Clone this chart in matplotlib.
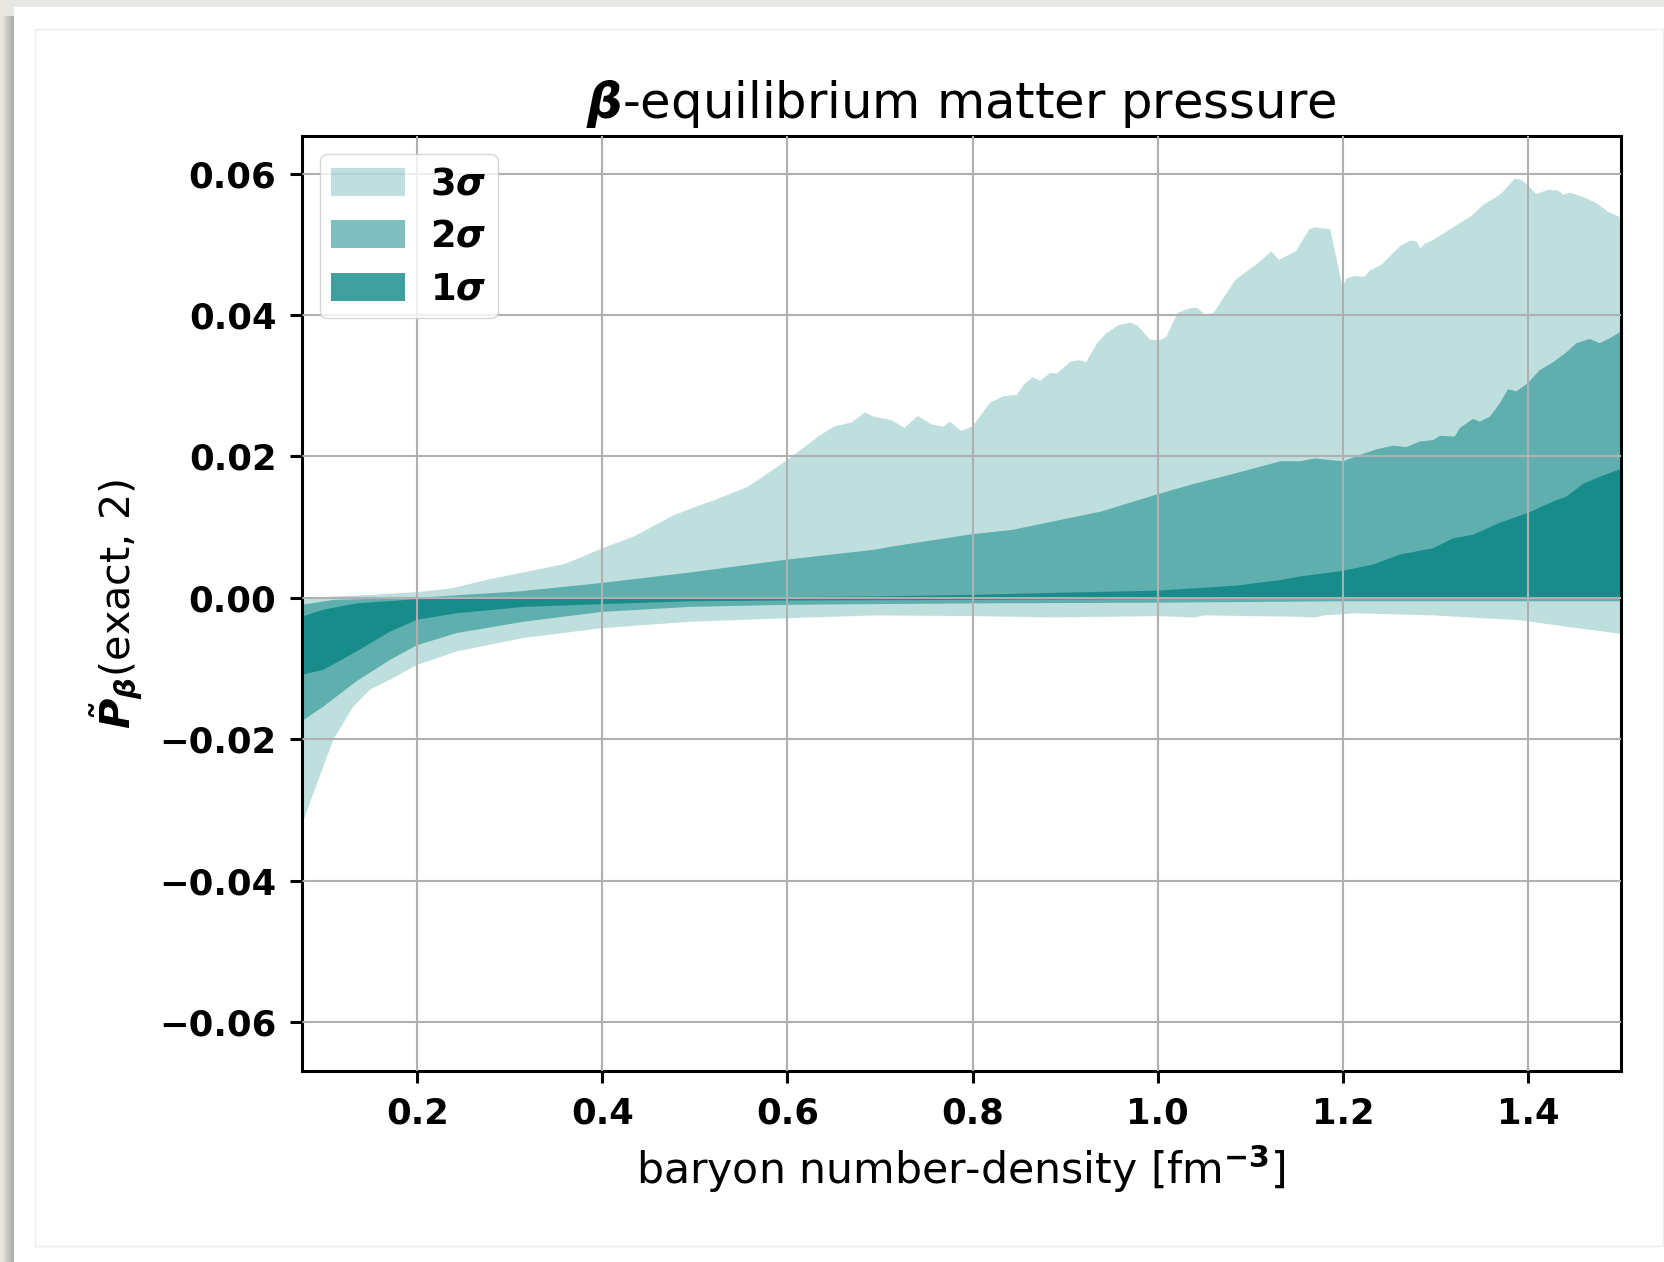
import numpy as np
import matplotlib
matplotlib.use("Agg")
import matplotlib.pyplot as plt
from matplotlib.patches import Rectangle

# sigma bands of the pressure residual vs baryon density
x_hi3 = [0.075, 0.10, 0.15, 0.2, 0.236, 0.2775, 0.327, 0.36, 0.4, 0.4345, 0.476, 0.5054,
         0.517, 0.5536, 0.5585, 0.6, 0.6332, 0.650, 0.6694, 0.6838, 0.6935, 0.7128, 0.7263,
         0.7408, 0.7562, 0.7683, 0.7755, 0.7876, 0.7996, 0.819, 0.8334, 0.8479, 0.8551,
         0.8647, 0.873, 0.884, 0.8912, 0.9056, 0.9153, 0.9226, 0.9346, 0.9443, 0.9587,
         0.9708, 0.978, 0.9918, 1.0021, 1.0093, 1.0214, 1.0359, 1.0431, 1.0503, 1.06,
         1.0841, 1.1082, 1.1226, 1.1309, 1.1492, 1.1637, 1.1699, 1.1864, 1.1996, 1.204,
         1.2129, 1.2237, 1.2291, 1.2417, 1.2615, 1.2723, 1.2796, 1.2839, 1.2875, 1.2976,
         1.3192, 1.339, 1.3516, 1.366, 1.3714, 1.3858, 1.393, 1.4, 1.409, 1.4217, 1.4325,
         1.4379, 1.4451, 1.4595, 1.474, 1.4865, 1.5]
y_hi3 = [-0.0003, 0.0001, 0.0004, 0.0008, 0.0013, 0.0026, 0.0039, 0.0048, 0.0070, 0.0087,
         0.0116, 0.0131, 0.0136, 0.0155, 0.0158, 0.0195, 0.0228, 0.0242, 0.0248, 0.0262,
         0.0256, 0.0251, 0.0240, 0.0257, 0.0245, 0.0242, 0.0249, 0.0236, 0.0242, 0.0276,
         0.0285, 0.0287, 0.0301, 0.0312, 0.0307, 0.0318, 0.0317, 0.0334, 0.0336, 0.0333,
         0.0360, 0.0374, 0.0386, 0.0389, 0.0385, 0.0365, 0.0364, 0.0369, 0.0403, 0.0410,
         0.0410, 0.0401, 0.0402, 0.0450, 0.0473, 0.0490, 0.0478, 0.0490, 0.0521, 0.0524,
         0.0521, 0.0440, 0.0452, 0.0455, 0.0454, 0.0463, 0.0471, 0.0497, 0.0505, 0.0504,
         0.0494, 0.0500, 0.0506, 0.0524, 0.0540, 0.0556, 0.0567, 0.0572, 0.0593, 0.0591,
         0.0583, 0.0571, 0.0577, 0.0576, 0.0570, 0.0573, 0.0567, 0.0558, 0.0546, 0.0538]
x_lo3 = [0.075, 0.084, 0.0985, 0.1093, 0.1309, 0.149, 0.1705, 0.2, 0.2426, 0.3145, 0.4,
         0.4946, 0.6, 0.6944, 0.8, 0.891, 1.0, 1.04, 1.05, 1.1536, 1.17, 1.18, 1.2133,
         1.2975, 1.3921, 1.4415, 1.5]
y_lo3 = [-0.0324, -0.0290, -0.0239, -0.0201, -0.0154, -0.0130, -0.0116, -0.0095, -0.0076,
         -0.0057, -0.0043, -0.0034, -0.0029, -0.0025, -0.0026, -0.0028, -0.0026, -0.0028,
         -0.0025, -0.0027, -0.0028, -0.0025, -0.0022, -0.0025, -0.0032, -0.0041, -0.0051]

x_hi2 = [0.075, 0.11, 0.2, 0.3105, 0.4, 0.4966, 0.6, 0.6944, 0.7107, 0.8, 0.843, 0.891,
         0.939, 0.999, 1.036, 1.084, 1.1325, 1.1536, 1.1698, 1.2, 1.2165, 1.2364, 1.2543,
         1.2687, 1.2831, 1.2975, 1.3047, 1.3209, 1.3263, 1.3407, 1.3479, 1.3587, 1.3695,
         1.3785, 1.3875, 1.3994, 1.4127, 1.4271, 1.4415, 1.4523, 1.4667, 1.4775, 1.4883, 1.5]
y_hi2 = [-0.0010, -0.0003, 0.0000, 0.0009, 0.0021, 0.0036, 0.0054, 0.0068, 0.0072, 0.0090,
         0.0096, 0.0109, 0.0122, 0.0146, 0.0160, 0.0176, 0.0193, 0.0193, 0.0197, 0.0193,
         0.0201, 0.0210, 0.0215, 0.0213, 0.0221, 0.0223, 0.0229, 0.0228, 0.0240, 0.0253,
         0.0249, 0.0256, 0.0275, 0.0295, 0.0292, 0.0303, 0.0322, 0.0333, 0.0347, 0.0360,
         0.0366, 0.0360, 0.0367, 0.0376]
x_lo2 = [0.075, 0.0985, 0.1345, 0.1705, 0.2, 0.2426, 0.3145, 0.4, 0.4946, 0.6, 0.8, 1.0,
         1.2, 1.5]
y_lo2 = [-0.0175, -0.0154, -0.0118, -0.0088, -0.0067, -0.0050, -0.0034, -0.0020, -0.0013,
         -0.0010, -0.0008, -0.0007, -0.0005, -0.0005]

x_hi1 = [0.075, 0.0985, 0.1345, 0.2, 0.4, 0.6, 0.7, 0.8, 0.891, 1.0, 1.084, 1.1325, 1.1536,
         1.2, 1.2327, 1.2615, 1.2975, 1.3192, 1.3407, 1.3695, 1.4, 1.4271, 1.4415, 1.4595,
         1.4775, 1.5]
y_hi1 = [-0.0027, -0.0017, -0.0008, -0.0002, -0.0001, 0.0001, 0.0002, 0.0004, 0.0007,
         0.0010, 0.0017, 0.0025, 0.0030, 0.0038, 0.0047, 0.0061, 0.0070, 0.0084, 0.0089,
         0.0106, 0.0120, 0.0136, 0.0143, 0.0161, 0.0171, 0.0182]
x_lo1 = [0.075, 0.0985, 0.1345, 0.1705, 0.2, 0.2426, 0.3145, 0.4, 0.4946, 0.6, 0.8, 1.0, 1.5]
y_lo1 = [-0.0109, -0.0102, -0.0076, -0.0048, -0.0031, -0.0022, -0.0013, -0.0009, -0.0005,
         -0.0004, -0.0003, -0.0002, -0.0001]

bands = [(r'$\mathbf{3}\boldsymbol{\sigma}$', x_hi3, y_hi3, x_lo3, y_lo3, 0.25),
         (r'$\mathbf{2}\boldsymbol{\sigma}$', x_hi2, y_hi2, x_lo2, y_lo2, 0.5),
         (r'$\mathbf{1}\boldsymbol{\sigma}$', x_hi1, y_hi1, x_lo1, y_lo1, 0.75)]

W, H = 1665, 1262
fig = plt.figure(figsize=(W / 100, H / 100), dpi=100)
fig.patch.set_facecolor('#e9e7e2')

# paper card with a soft shadow on the left (kept behind the axes)
for k in range(12):
    fig.add_artist(Rectangle(((14 - k) / W, 0), 1, 1 - 16 / H, transform=fig.transFigure,
                             color='#6a6a64', alpha=0.05, lw=0, zorder=-3))
fig.add_artist(Rectangle((14 / W, 0), 1, 1 - 7 / H, transform=fig.transFigure,
                         facecolor='white', lw=0, zorder=-2))
fig.add_artist(Rectangle((35 / W, 16 / H), 1628 / W, 1217 / H, transform=fig.transFigure,
                         facecolor='none', edgecolor='#eeeeee', lw=1, zorder=-1))

ax = fig.add_axes([0.1811, 0.151, 0.7922, 0.7412])
for lab, xh, yh, xl, yl, a in bands:
    ax.fill(np.concatenate([xh, xl[::-1]]), np.concatenate([yh, yl[::-1]]),
            color='teal', alpha=a, lw=0, label=lab)

ax.set_xlim(0.075, 1.5)
ax.set_ylim(-0.067, 0.0653)
ax.set_xticks(np.arange(0.2, 1.41, 0.2))
ax.set_yticks(np.arange(-0.06, 0.061, 0.02))
ax.set_xticklabels(['%.1f' % v for v in ax.get_xticks()])
ax.set_yticklabels([('%.2f' % v).replace('-', '\u2212') if abs(v) > 1e-9 else '0.00'
                    for v in ax.get_yticks()])
ax.grid(True, color='#b0b0b0', lw=1.5)
ax.set_axisbelow(False)
for s in ax.spines.values():
    s.set_linewidth(2.2)
ax.tick_params(length=8.6, width=2.2, labelsize=25.5, pad=9.5)
for t in ax.get_xticklabels() + ax.get_yticklabels():
    t.set_fontweight('bold')

ax.set_title(r'$\boldsymbol{\beta}$-equilibrium matter pressure', fontsize=35.7, pad=13)
ax.set_xlabel(r'baryon number-density [fm$^{\mathbf{-3}}$]', fontsize=30.7, labelpad=9)
ax.set_ylabel(r'$\tilde{\boldsymbol{P}}_{\boldsymbol{\beta}}$(exact, 2)', fontsize=29.8, labelpad=10)

ax.legend(loc='upper left', fontsize=26.5, labelspacing=0.42, handlelength=2.0,
          handleheight=0.8, handletextpad=0.7, borderpad=0.3)

fig.savefig('out.png', dpi=100, facecolor=fig.get_facecolor())
